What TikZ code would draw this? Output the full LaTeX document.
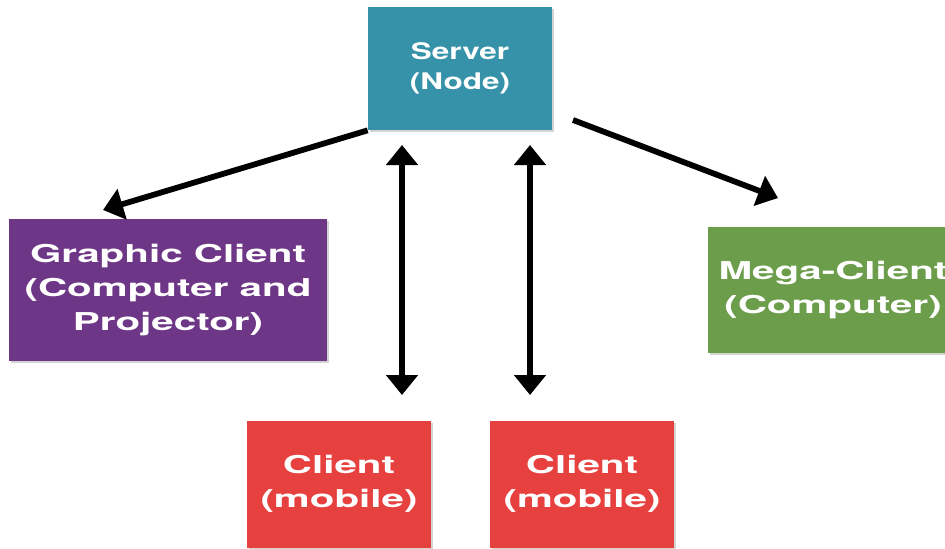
\documentclass[tikz,border=0pt]{standalone}
\usepackage{fontspec}
\setmainfont{TeX Gyre Heros}
\newfontfamily\boxfont[FakeStretch=1.64]{TeX Gyre Heros}
\newfontfamily\serverfont[FakeStretch=1.38]{TeX Gyre Heros}
\usepackage{xcolor}
\usepackage{tikz}
\usetikzlibrary{positioning,arrows.meta,shadows}

\definecolor{servercol}{HTML}{3592A8}
\definecolor{graphcol}{HTML}{6E3686}
\definecolor{megacol}{HTML}{6C9D4B}
\definecolor{clientcol}{HTML}{E6403F}

\begin{document}
\begin{tikzpicture}[
      x=0.02cm, y=-0.02cm,
      box/.style={rectangle, inner sep=0pt, align=center, text=white,
                  font=\boxfont\bfseries\fontsize{14}{19.3}\selectfont,
                  drop shadow={shadow xshift=1.2pt, shadow yshift=-1.2pt,
                               opacity=0.35}},
      arr/.style={line width=3.3pt, -{Triangle[length=0.4cm, width=0.62cm]}},
      biarr/.style={line width=3.3pt,
                    {Triangle[length=0.4cm, width=0.62cm]}-{Triangle[length=0.4cm, width=0.62cm]}},
    ]
    \useasboundingbox (0,0) rectangle (945,548);
    \clip (0,0) rectangle (945,548);

    \node[box, fill=servercol, minimum width=3.68cm, minimum height=2.46cm,
          font=\serverfont\bfseries\fontsize{13}{17}\selectfont] (server) at (460,68.5)
          {Server\\(Node)};
    \node[box, fill=graphcol, minimum width=6.36cm, minimum height=2.84cm]
          (gclient) at (168,290) {Graphic Client\\(Computer and\\Projector)};
    \node[box, fill=megacol, minimum width=5.0cm, minimum height=2.52cm]
          (mega) at (833,290) {Mega-Client\\(Computer)};
    \node[box, fill=clientcol, minimum width=3.68cm, minimum height=2.54cm]
          (mobA) at (339,484) {Client\\(mobile)};
    \node[box, fill=clientcol, minimum width=3.68cm, minimum height=2.54cm]
          (mobB) at (582,484) {Client\\(mobile)};

    % arrow ends
    \coordinate (gtip) at (103,210);
    \coordinate (mtip) at (778,198);
    \coordinate (rstart) at (573,120);
    \coordinate (atop) at (402,145);
    \coordinate (abot) at (402,395);
    \coordinate (btop) at (530,145);
    \coordinate (bbot) at (530,395);

    \draw[arr] (server.south west) -- (gtip);
    \draw[arr] (rstart) -- (mtip);
    \draw[biarr] (atop) -- (abot);
    \draw[biarr] (btop) -- (bbot);
  \end{tikzpicture}
\end{document}
